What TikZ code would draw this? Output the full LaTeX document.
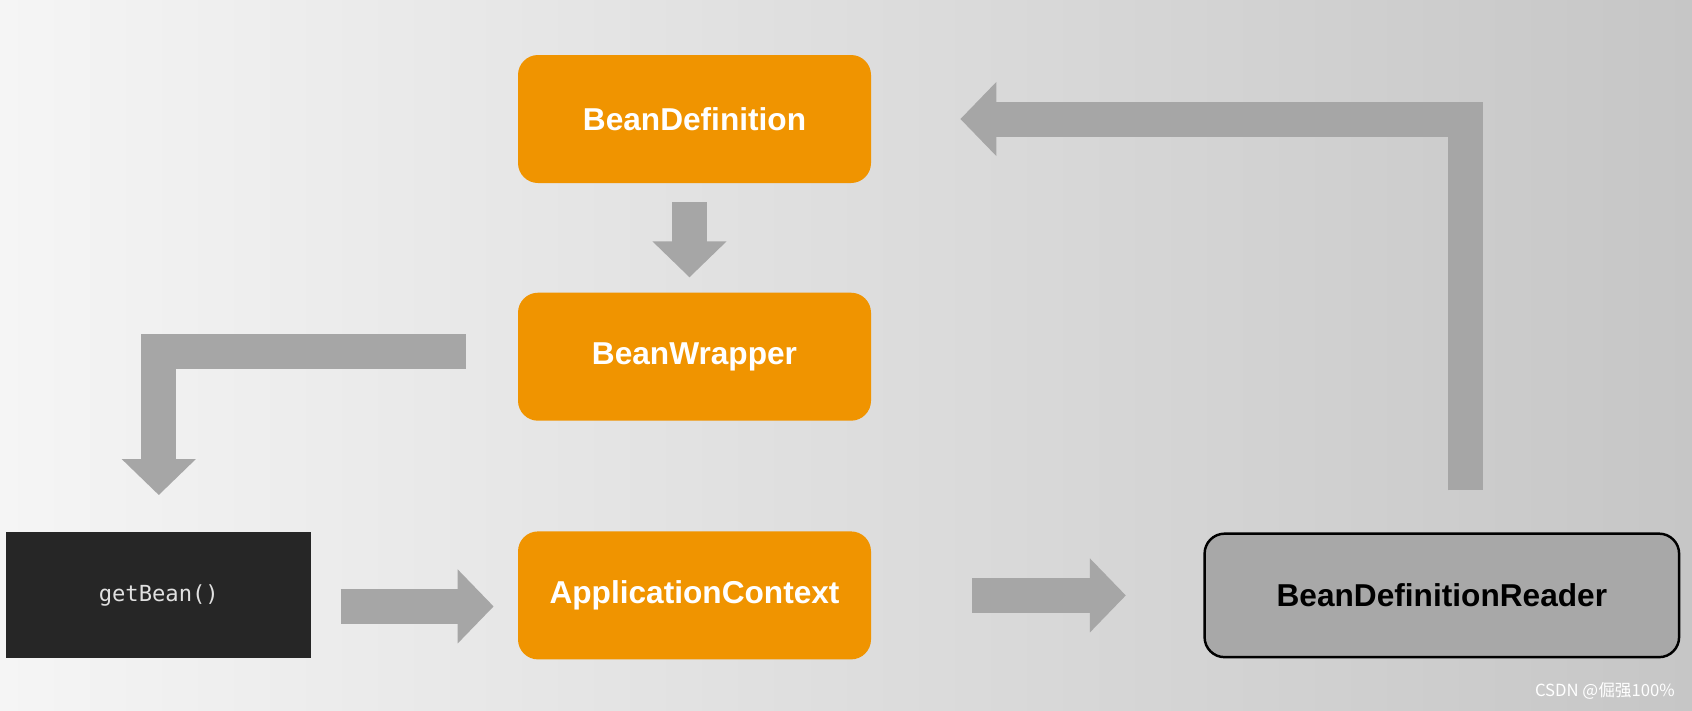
\documentclass[tikz,border=0pt]{standalone}
\usepackage{fontspec}
\setsansfont{Liberation Sans}
\setmonofont{DejaVu Sans Mono}
\newfontfamily\cjkfont{Noto Sans CJK SC}
\usetikzlibrary{arrows.meta, positioning}
\definecolor{beanorange}{RGB}{240, 148, 0}
\definecolor{flowgray}{RGB}{166, 166, 166}
\definecolor{readergray}{RGB}{168, 168, 168}
\definecolor{codeblack}{RGB}{38, 38, 38}
\definecolor{bgleft}{RGB}{245, 245, 245}
\definecolor{bgright}{RGB}{198, 198, 198}

\begin{document}
\begin{tikzpicture}[node distance=2.2cm,
        bean/.style={rectangle, fill=beanorange, rounded corners=0.4cm, minimum width=7.06cm, minimum height=2.56cm, text=white, font=\sffamily\bfseries\fontsize{18}{20}\selectfont},
        reader/.style={rectangle, draw=black, line width=1.4pt, fill=readergray, rounded corners=0.4cm, minimum width=9.49cm, minimum height=2.47cm, text=black, font=\sffamily\bfseries\fontsize{18}{20}\selectfont},
        call/.style={rectangle, fill=codeblack, minimum width=6.1cm, minimum height=2.52cm, text=white!88!black, font=\ttfamily\fontsize{12.6}{14}\selectfont},
        flow/.style={draw=flowgray, line width=0.7cm, line join=miter, -{Triangle[width=1.44cm, length=0.72cm]}}]

        \useasboundingbox (0,0) rectangle (33.84,-14.2);
        \shade[left color=bgleft, right color=bgright] (0,0) rectangle (33.84,-14.2);

        \node [bean] (bd) at (13.89,-2.38) {BeanDefinition};
        \node [bean, below=2.18cm of bd] (bw) {BeanWrapper};
        \node [bean, below=2.2cm of bw] (ac) {ApplicationContext};
        \node [call, left=4.12cm of ac] (gb) {getBean()};
        \node [reader, right=6.64cm of ac] (rd) {BeanDefinitionReader};

        \draw [flow] ([xshift=-0.1cm, yshift=-0.38cm]bd.south) -- ([xshift=-0.1cm, yshift=0.3cm]bw.north);
        \draw [flow] ([xshift=-1.04cm, yshift=0.11cm]bw.west) -| ([yshift=0.74cm]gb.north);
        \draw [flow] ([xshift=0.58cm, yshift=-0.22cm]gb.east) -- ([xshift=-0.48cm, yshift=-0.22cm]ac.west);
        \draw [flow] ([xshift=2.02cm]ac.east) -- ([xshift=-1.55cm]rd.west);
        \draw [flow] ([xshift=0.47cm, yshift=0.84cm]rd.north) |- ([xshift=1.78cm]bd.east);

        \node [anchor=east, text=white, font=\cjkfont\fontsize{9.5}{10}\selectfont] (mark) at (33.62,-13.82) {CSDN @倔强100\%};
    \end{tikzpicture}
\end{document}
